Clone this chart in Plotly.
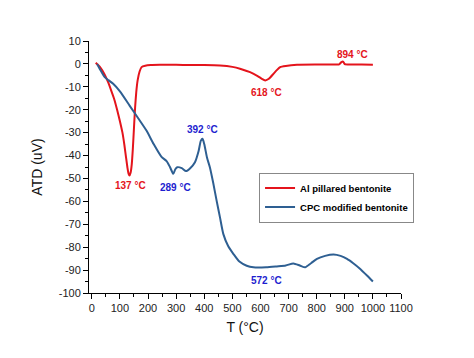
import plotly.graph_objects as go

# Al pillared bentonite (red)
al_T = [14, 30, 45, 58, 70, 80, 90, 100, 109, 116, 122, 127, 131, 134, 138, 142, 146, 150, 154, 158, 163, 170, 177,
        190, 210, 242, 300, 350, 400, 456, 500, 530, 563, 590, 605, 617, 630, 645, 660, 670, 690, 730,
        800, 850, 880, 888, 894, 900, 920, 960, 1000]
al_atd = [0.5, -1.5, -4.5, -8, -12, -15.5, -20, -25, -30, -35.5, -41, -45.5, -48, -48.7, -47.5, -44, -37, -28, -19, -12.5, -7.2, -3.3, -1.4,
          -0.8, -0.5, -0.4, -0.4, -0.5, -0.5, -0.7, -1.3, -2.2, -3.6, -5.3, -6.5, -7.2, -6.5, -4.5, -2.5, -1.4, -0.9, -0.4,
          -0.3, -0.3, -0.2, 0.8, 1.0, -0.1, -0.3, -0.3, -0.4]

# CPC modified bentonite (blue)
cpc_T = [19, 30, 46, 60, 76, 100, 135, 165, 195, 220, 248, 266, 278, 290, 297, 304, 320, 335, 350, 367,
         380, 388, 394, 400, 410, 420, 432, 444, 456, 468, 485, 504, 525, 551, 575, 620, 658, 690, 717,
         740, 759, 780, 801, 830, 860, 885, 908, 930, 955, 980, 1000]
cpc_atd = [0, -2.5, -5.8, -7.2, -8.7, -12, -18.3, -23.7, -29.2, -35, -40.6, -42.4, -45, -48, -46, -45.1, -45.5, -46.8, -45.5, -42.9,
           -38, -33.5, -32.7, -35, -41, -45.1, -52, -59.7, -67, -74.3, -79.5, -83, -86.3, -88.1, -88.8, -88.8, -88.4, -88, -87.1,
           -88, -88.8, -87, -85.1, -83.8, -83.2, -83.8, -85.1, -87, -89.5, -92.5, -95]

# peak labels
red_lbl_T = [139, 620, 929]
red_lbl_y = [-53.1, -12.3, 4.2]
red_lbl_txt = ["137 °C", "618 °C", "894 °C"]
blue_lbl_T = [298, 394, 620]
blue_lbl_y = [-53.8, -28.8, -94.6]
blue_lbl_txt = ["289 °C", "392 °C", "572 °C"]

x_ticks = list(range(0, 1101, 100))
y_ticks = list(range(-100, 11, 10))
y_ticktext = [str(v) for v in y_ticks]

RED = "#e4141c"
BLUE_LINE = "#2e5f92"
BLUE_TXT = "#1e1ecf"

fig = go.Figure()
fig.add_trace(go.Scatter(x=al_T, y=al_atd, mode="lines", name="Al pillared bentonite",
                         line=dict(color=RED, width=2, shape="spline", smoothing=0.5)))
fig.add_trace(go.Scatter(x=cpc_T, y=cpc_atd, mode="lines", name="CPC modified bentonite",
                         line=dict(color=BLUE_LINE, width=2, shape="spline", smoothing=0.6)))

for t, y, s in zip(red_lbl_T, red_lbl_y, red_lbl_txt):
    fig.add_annotation(x=t, y=y, text=s, showarrow=False,
                       font=dict(color=RED, size=10, family="Liberation Sans", weight="bold"))
for t, y, s in zip(blue_lbl_T, blue_lbl_y, blue_lbl_txt):
    fig.add_annotation(x=t, y=y, text=s, showarrow=False,
                       font=dict(color=BLUE_TXT, size=10, family="Liberation Sans", weight="bold"))

axis_common = dict(showline=True, linecolor="black", linewidth=1, ticks="outside", ticklen=5,
                   tickcolor="black", showgrid=False, zeroline=False, mirror=False, automargin=False,
                   tickfont=dict(size=11, color="#222", family="Liberation Sans"))

fig.update_xaxes(range=[-10, 1100], tickvals=x_ticks,
                 minor=dict(dtick=50, tick0=0, ticks="outside", ticklen=3, tickcolor="black"),
                 title=dict(text="T (°C)", font=dict(size=14, family="Liberation Sans", color="#111"), standoff=8),
                 **axis_common)
fig.update_yaxes(range=[-100, 10], tickvals=y_ticks, ticktext=y_ticktext,
                 minor=dict(dtick=5, tick0=0, ticks="outside", ticklen=3, tickcolor="black"),
                 title=dict(text="ATD (uV)", font=dict(size=14, family="Liberation Sans", color="#111"), standoff=12),
                 **axis_common)

fig.update_layout(
    width=466, height=350,
    margin=dict(l=81, r=73, t=33, b=65),
    paper_bgcolor="white", plot_bgcolor="white",
    showlegend=True,
    legend=dict(x=0.545, y=0.478, xanchor="left", yanchor="top",
                bordercolor="#888", borderwidth=1, bgcolor="white",
                font=dict(size=9.5, family="Liberation Sans", color="black", weight="bold"),
                itemwidth=30, tracegroupgap=0),
)

fig.write_html("out.html")
